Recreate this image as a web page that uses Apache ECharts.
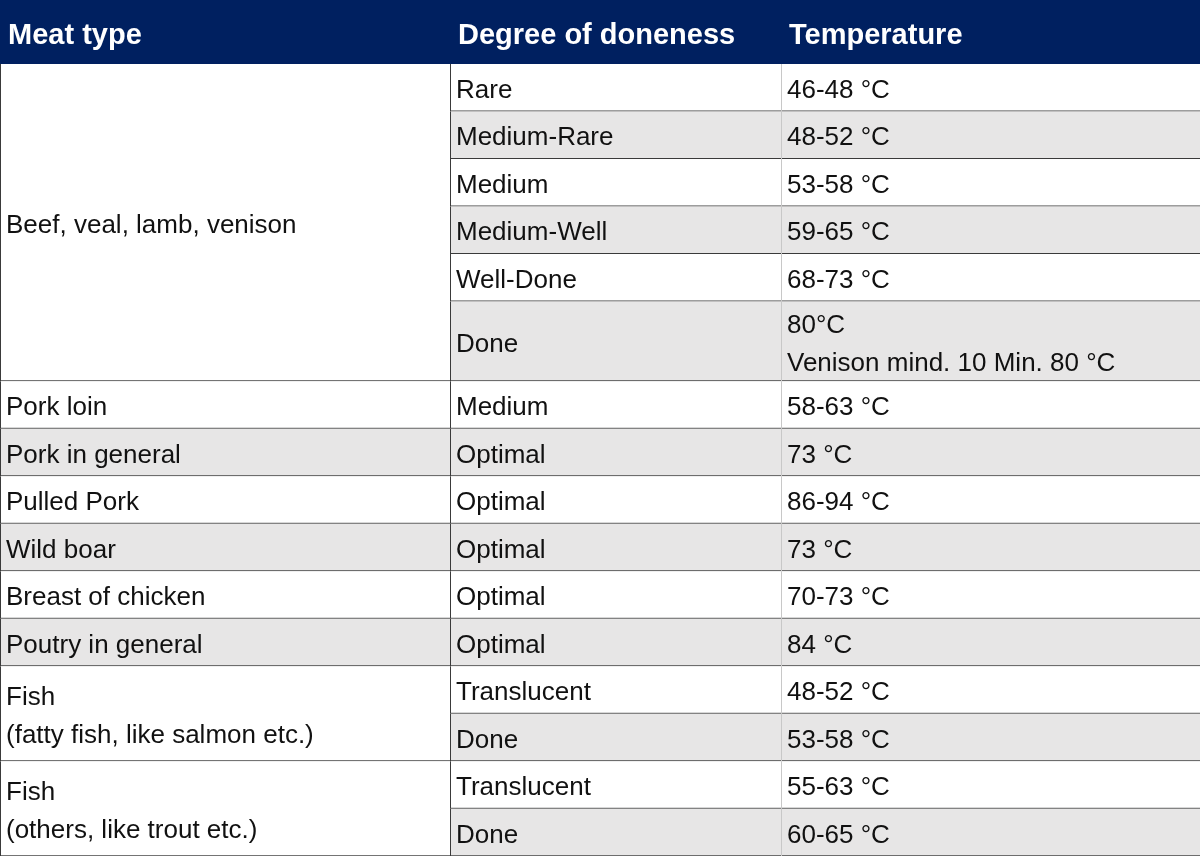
<html>
<head>
<meta charset="utf-8">
<script src="https://cdn.jsdelivr.net/npm/echarts@6/dist/echarts.min.js"></script>
<style>html,body{margin:0;padding:0;background:#fff}#chart{width:1200px;height:856px}</style>
</head>
<body>
<div id="chart"></div>
<script>
var headers = ['Meat type', 'Degree of doneness', 'Temperature'];
var meatTypes = ['Beef, veal, lamb, venison', 'Pork loin', 'Pork in general', 'Pulled Pork', 'Wild boar',
  'Breast of chicken', 'Poutry in general', 'Fish\n(fatty fish, like salmon etc.)', 'Fish\n(others, like trout etc.)'];
var doneness = [
  ['Rare', 'Medium-Rare', 'Medium', 'Medium-Well', 'Well-Done', 'Done'],
  ['Medium'], ['Optimal'], ['Optimal'], ['Optimal'], ['Optimal'], ['Optimal'],
  ['Translucent', 'Done'], ['Translucent', 'Done']
];
var temperatures = [
  ['46-48 °C', '48-52 °C', '53-58 °C', '59-65 °C', '68-73 °C', '80°C\nVenison mind. 10 Min. 80 °C'],
  ['58-63 °C'], ['73 °C'], ['86-94 °C'], ['73 °C'], ['70-73 °C'], ['84 °C'],
  ['48-52 °C', '53-58 °C'], ['55-63 °C', '60-65 °C']
];

var colEdges = [0, 450, 781, 1200];
var headerH = 64, rowH = 47.5;
var navy = '#002060', grey = '#e7e6e6', font = '"Liberation Sans", Arial, sans-serif';

// build cell list [x0, x1, y0, y1, text, kind, idx]
var cells = [];
for (var c = 0; c < 3; c++) cells.push([colEdges[c], colEdges[c + 1], 0, headerH, headers[c], 'head', 0]);
var y = headerH, k = 0;
meatTypes.forEach(function (m, g) {
  var y0 = y;
  doneness[g].forEach(function (d, i) {
    var h = temperatures[g][i].indexOf('\n') >= 0 ? rowH * 1.68 : rowH;
    cells.push([colEdges[1], colEdges[2], y, y + h, d, 'cell', k]);
    cells.push([colEdges[2], colEdges[3], y, y + h, temperatures[g][i], 'cell', k]);
    y += h; k++;
  });
  cells.push([colEdges[0], colEdges[1], y0, y, m, doneness[g].length === 1 ? 'cell' : 'group', k - 1]);
});

var chart = echarts.init(document.getElementById('chart'));
chart.setOption({
  animation: false,
  grid: {left: 0, right: 0, top: 0, bottom: 0},
  xAxis: {type: 'value', min: 0, max: 1200, show: false},
  yAxis: {type: 'value', min: 0, max: 856, inverse: true, show: false},
  series: [{
    type: 'custom',
    data: cells,
    renderItem: function (params, api) {
      var p0 = api.coord([api.value(0), api.value(2)]);
      var p1 = api.coord([api.value(1), api.value(3)]);
      var d = cells[params.dataIndex];
      var kind = d[5];
      var fill = kind === 'head' ? navy : (kind !== 'group' && d[6] % 2 === 1 ? grey : '#fff');
      var children = [{
        type: 'rect',
        shape: {x: p0[0], y: p0[1], width: p1[0] - p0[0], height: p1[1] - p0[1]},
        style: {fill: fill}
      }];
      if (kind !== 'head') {
        children.push({type: 'line', shape: {x1: p0[0], y1: p1[1] - 0.5, x2: p1[0], y2: p1[1] - 0.5},
          style: {stroke: '#3a3a3a', lineWidth: 1}});
        children.push({type: 'line', shape: {x1: p0[0] + 0.5, y1: p0[1], x2: p0[0] + 0.5, y2: p1[1]},
          style: {stroke: d[0] === colEdges[2] ? '#c8c8c8' : '#3a3a3a', lineWidth: 1}});
      }
      children.push({
        type: 'text',
        style: {
          x: p0[0] + (kind === 'head' ? 8 : 6), y: (p0[1] + p1[1]) / 2 + (kind === 'head' ? 4 : 3),
          text: d[4], fill: kind === 'head' ? '#fff' : '#111',
          font: (kind === 'head' ? 'bold 29px ' : '26px ') + font,
          lineHeight: 38, verticalAlign: 'middle', align: 'left'
        }
      });
      return {type: 'group', children: children};
    }
  }]
});
</script>
</body>
</html>
